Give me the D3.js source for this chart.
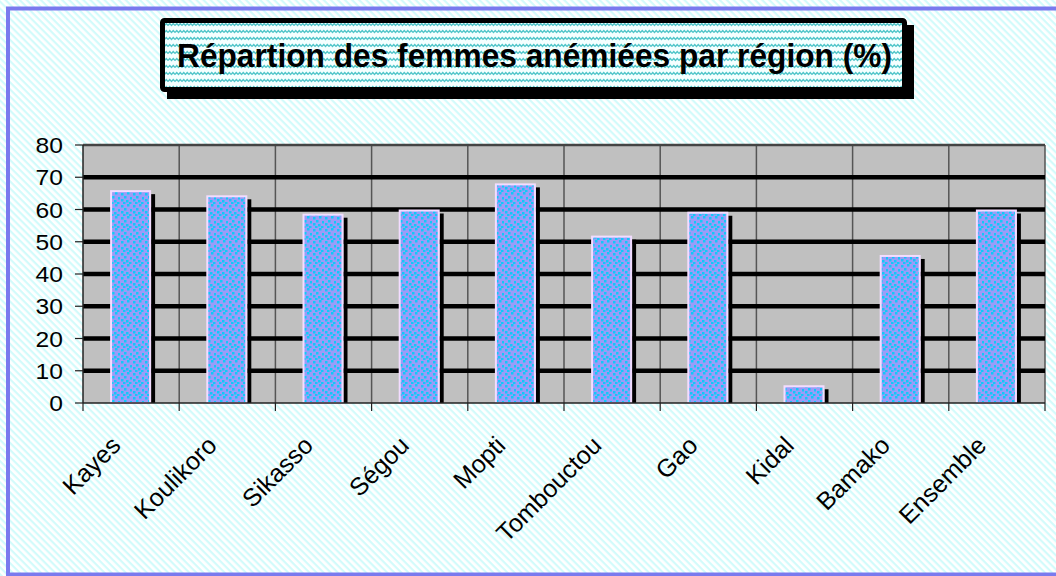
<!DOCTYPE html>
<html>
<head>
<meta charset="utf-8">
<script src="https://cdn.jsdelivr.net/npm/d3@7"></script>
<style>
  body { margin: 0; background: #fff; }
  svg { display: block; font-family: "Liberation Sans", Arial, sans-serif; }
</style>
</head>
<body>
<div id="chart"></div>
<script>
'use strict';

var titleText = 'Répartion des femmes anémiées par région (%)';
var regions = ['Kayes', 'Koulikoro', 'Sikasso', 'Ségou', 'Mopti', 'Tombouctou', 'Gao', 'Kidal', 'Bamako', 'Ensemble'];
var anemia = [66, 64.4, 58.7, 60, 68.1, 51.9, 59.3, 5.5, 45.9, 60];
var yTicks = [0, 10, 20, 30, 40, 50, 60, 70, 80];

var W = 1056, H = 576;
// tick digits look a bit wide in the original
var stretch = 1.12;

var svg = d3.select('#chart').append('svg')
  .attr('width', W)
  .attr('height', H);

var defs = svg.append('defs');

// page background: light cyan diagonal stripes
var bgPat = defs.append('pattern')
  .attr('id', 'bgStripes')
  .attr('width', 5).attr('height', 5)
  .attr('patternUnits', 'userSpaceOnUse')
  .attr('patternTransform', 'rotate(45)');
bgPat.append('rect').attr('width', 5).attr('height', 5).attr('fill', '#ffffff');
bgPat.append('rect').attr('width', 5).attr('height', 2.2).attr('fill', '#d2fbfb');

// title box: zigzag pattern
var zz = defs.append('pattern')
  .attr('id', 'zigzag')
  .attr('width', 7).attr('height', 7)
  .attr('patternUnits', 'userSpaceOnUse');
zz.append('rect').attr('width', 7).attr('height', 7).attr('fill', '#f4ffff');
zz.append('path')
  .attr('d', 'M0,4.5 L1.75,2.5 L3.5,4.5 L5.25,2.5 L7,4.5')
  .attr('fill', 'none')
  .attr('stroke', '#4cc4c8')
  .attr('stroke-width', 1.2);

// bars: lavender with cyan squares
var dots = defs.append('pattern')
  .attr('id', 'dots')
  .attr('width', 12).attr('height', 12)
  .attr('patternUnits', 'userSpaceOnUse');
dots.append('rect').attr('width', 12).attr('height', 12).attr('fill', '#9b9cf8');
[[1, 1], [7, 0], [4, 4], [10, 5], [1, 7], [6, 8], [9, 10], [3, 10]].forEach(function (p) {
  dots.append('rect')
    .attr('x', p[0]).attr('y', p[1])
    .attr('width', 2.5).attr('height', 2.5)
    .attr('fill', '#12c8f8');
});

svg.append('rect')
  .attr('width', W).attr('height', H)
  .attr('fill', 'url(#bgStripes)');

// outer blue frame
svg.append('rect')
  .attr('x', 8).attr('y', 8.5)
  .attr('width', 1062).attr('height', 566)
  .attr('fill', 'none')
  .attr('stroke', '#7a7aee')
  .attr('stroke-width', 4);

// title
var tb = { x: 160, y: 18, w: 747, h: 74 };
svg.append('rect')
  .attr('x', tb.x + 7).attr('y', tb.y + 7)
  .attr('width', tb.w).attr('height', tb.h)
  .attr('fill', '#000');
svg.append('rect')
  .attr('x', tb.x + 2.5).attr('y', tb.y + 2.5)
  .attr('width', tb.w - 5).attr('height', tb.h - 5)
  .attr('rx', 2)
  .attr('fill', 'url(#zigzag)')
  .attr('stroke', '#000')
  .attr('stroke-width', 5);
svg.append('text')
  .attr('x', 177).attr('y', 67)
  .attr('font-size', 34)
  .attr('font-weight', 'bold')
  .attr('textLength', 715)
  .attr('lengthAdjust', 'spacingAndGlyphs')
  .attr('fill', '#000')
  .text(titleText);

// scales
var x = d3.scaleBand()
  .domain(regions)
  .range([83, 1045]);

var y = d3.scaleLinear()
  .domain([0, 80])
  .range([403, 145]);

var plot = svg.append('g');

plot.append('rect')
  .attr('x', x.range()[0]).attr('y', y(80))
  .attr('width', x.range()[1] - x.range()[0])
  .attr('height', y(0) - y(80))
  .attr('fill', '#c0c0c0');

// vertical grid at category boundaries
var bounds = regions.map(function (r) { return x(r); }).concat([x.range()[1]]);
plot.selectAll('.vgrid')
  .data(bounds.slice(1))
  .enter()
  .append('line')
  .attr('class', 'vgrid')
  .attr('x1', function (d) { return d; })
  .attr('x2', function (d) { return d; })
  .attr('y1', y(80))
  .attr('y2', y(0))
  .attr('stroke', '#555')
  .attr('stroke-width', 1.5);

// thick horizontal grid
plot.selectAll('.hgrid')
  .data(yTicks.filter(function (t) { return t > 0 && t < 80; }))
  .enter()
  .append('line')
  .attr('class', 'hgrid')
  .attr('x1', 83)
  .attr('x2', 1045)
  .attr('y1', function (d) { return y(d); })
  .attr('y2', function (d) { return y(d); })
  .attr('stroke', '#000')
  .attr('stroke-width', 4.5);

plot.append('line')
  .attr('x1', 83).attr('x2', 1045)
  .attr('y1', y(80)).attr('y2', y(80))
  .attr('stroke', '#444')
  .attr('stroke-width', 2.5);

// bars with shadow
var barW = 41;
var bw = x.bandwidth();

var bars = plot.selectAll('.bar')
  .data(regions)
  .enter()
  .append('g')
  .attr('class', 'bar');

bars.append('rect')
  .attr('x', function (d) { return x(d) + (bw - barW) / 2 - 0.5 + barW; })
  .attr('y', function (d, i) { return y(anemia[i]) + 4; })
  .attr('width', 4)
  .attr('height', function (d, i) { return y(0) - y(anemia[i]) - 4; })
  .attr('fill', '#000');

bars.append('rect')
  .attr('x', function (d) { return x(d) + (bw - barW) / 2 - 0.5 + 1; })
  .attr('y', function (d, i) { return y(anemia[i]) + 1; })
  .attr('width', barW - 2)
  .attr('height', function (d, i) { return y(0) - y(anemia[i]) - 1; })
  .attr('fill', 'url(#dots)')
  .attr('stroke', '#f3dcff')
  .attr('stroke-width', 2);

// axes
var yAxis = svg.append('g');
yAxis.append('line')
  .attr('x1', 83).attr('x2', 83)
  .attr('y1', y(80)).attr('y2', y(0))
  .attr('stroke', '#222')
  .attr('stroke-width', 1.5);
yAxis.selectAll('.ytick')
  .data(yTicks)
  .enter()
  .append('line')
  .attr('x1', 75).attr('x2', 83)
  .attr('y1', function (d) { return y(d); })
  .attr('y2', function (d) { return y(d); })
  .attr('stroke', '#222')
  .attr('stroke-width', 1.2);
yAxis.selectAll('.ylab')
  .data(yTicks)
  .enter()
  .append('text')
  .attr('transform', function (d) { return 'translate(63,' + (y(d) + 8) + ') scale(' + stretch + ',1)'; })
  .attr('text-anchor', 'end')
  .attr('font-size', 22)
  .attr('fill', '#000')
  .text(function (d) { return d; });

var xAxis = svg.append('g');
xAxis.append('line')
  .attr('x1', 83).attr('x2', 1045)
  .attr('y1', y(0)).attr('y2', y(0))
  .attr('stroke', '#222')
  .attr('stroke-width', 1.5);
xAxis.selectAll('.xtick')
  .data(bounds)
  .enter()
  .append('line')
  .attr('x1', function (d) { return d; })
  .attr('x2', function (d) { return d; })
  .attr('y1', y(0))
  .attr('y2', y(0) + 8)
  .attr('stroke', '#222')
  .attr('stroke-width', 1.2);
xAxis.selectAll('.xlab')
  .data(regions)
  .enter()
  .append('text')
  .attr('transform', function (d) {
    return 'translate(' + (x(d) + bw / 2 - 9) + ',447) rotate(-45)';
  })
  .attr('text-anchor', 'end')
  .attr('font-size', 25)
  .attr('fill', '#000')
  .text(function (d) { return d; });
</script>
</body>
</html>
